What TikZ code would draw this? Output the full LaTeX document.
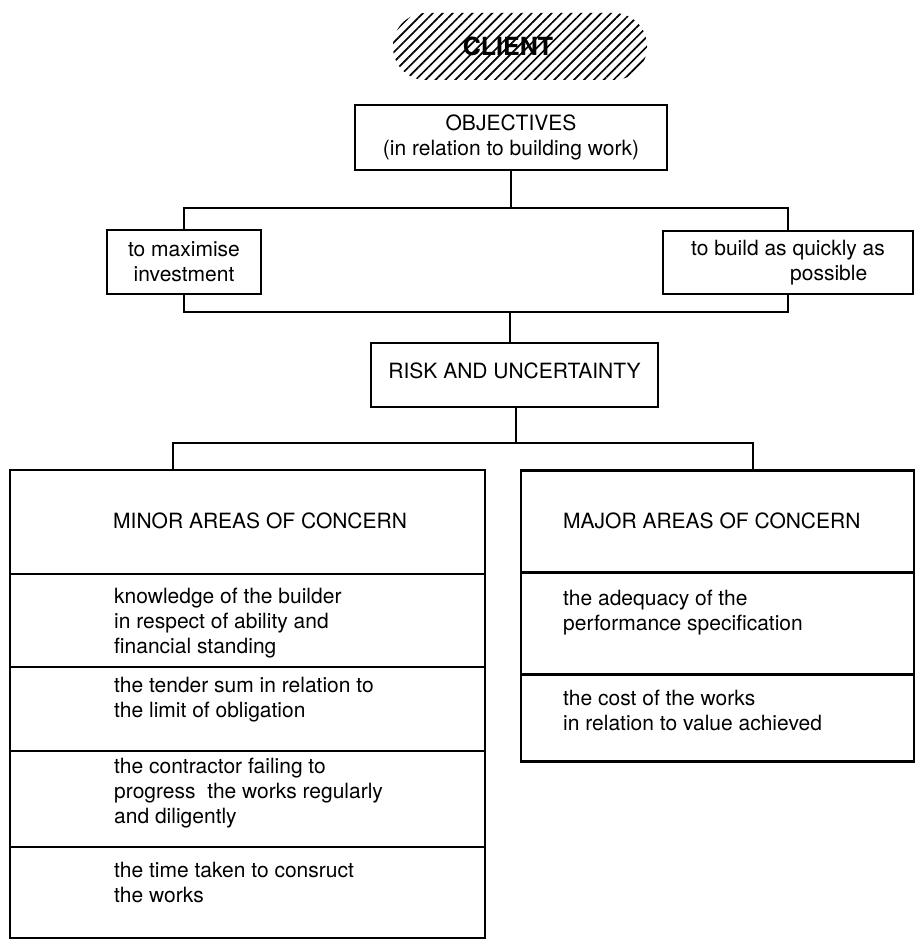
\documentclass[tikz,border=0pt]{standalone}
\usepackage{fontspec}
\setmainfont{TeX Gyre Heros}
\usetikzlibrary{patterns.meta, calc}
\tikzset{
  blk/.style={rectangle, draw, line width=2.5pt, inner sep=0pt, outer sep=0pt,
              align=center, font=\fontsize{21}{25}\selectfont},
  cell/.style={anchor=north west, inner sep=0pt, align=left,
               font=\fontsize{21}{25}\selectfont},
  head/.style={anchor=base west, inner sep=0pt, font=\fontsize{21}{25}\selectfont},
  link/.style={line width=2.5pt},
  rule/.style={line width=2.5pt}
}
\begin{document}
\begin{tikzpicture}[x=1pt, y=-1pt]
  \useasboundingbox (0,0) rectangle (916,941);
  \node[rectangle, rounded corners=33pt, minimum width=254pt, minimum height=67pt,
        pattern={Lines[angle=45, distance=7pt, line width=1.7pt]},
        font=\fontsize{25}{29}\selectfont\bfseries] (client) at (520,46.5)
    {\hspace*{-24pt}CLIENT};
  \node[blk, minimum width=312pt, minimum height=65pt] (obj) at (511,137.5)
    {OBJECTIVES\\(in relation to building work)};
  \node[blk, minimum width=154pt, minimum height=64pt] (maxi) at (184,262)
    {to maximise\\investment};
  \node[blk, minimum width=250pt, minimum height=63pt, align=left] (build) at (788,262.5)
    {to build as quickly as\\\hspace*{99pt}possible};
  \node[blk, minimum width=287pt, minimum height=64pt, text depth=8pt] (risk) at (514.5,375)
    {RISK AND UNCERTAINTY};
  \node[blk, minimum width=475pt, minimum height=468pt] (minor) at (247.5,704) {};
  \node[blk, minimum width=393pt, minimum height=291pt] (major) at (717.5,616) {};

  \node[head] (minorhd) at (113,528) {MINOR AREAS OF CONCERN};
  \node[head] (majorhd) at (563,528) {MAJOR AREAS OF CONCERN};
  \node[cell] (know) at (114,588)
    {knowledge of the builder\\in respect of ability and\\financial standing};
  \node[cell] (tender) at (114,677) {the tender sum in relation to\\the limit of obligation};
  \node[cell] (contr) at (114,758)
    {the contractor failing to\\progress\ \ the works regularly\\and diligently};
  \node[cell] (time) at (114,862) {the time taken to consruct\\the works};
  \node[cell] (adeq) at (563,590) {the adequacy of the\\performance specification};
  \node[cell] (cost) at (563,690) {the cost of the works\\in relation to value achieved};

  \coordinate (j1) at ($(obj.south)+(0,38)$);
  \draw[link] (obj.south) -- (j1);
  \draw[link] (maxi.north) |- (j1) -| (build.north);
  \coordinate (j2) at ($(risk.north)+(-4.5,-31)$);
  \draw[link] (maxi.south) |- (j2) -| (build.south);
  \draw[link] (j2) -- (j2 |- risk.north);
  \coordinate (j3) at ($(risk.south)+(1.5,36)$);
  \coordinate (mintop) at ($(minor.north west)!0.343!(minor.north east)$);
  \coordinate (majtop) at ($(major.north west)!0.590!(major.north east)$);
  \draw[link] (j3 |- risk.south) -- (j3);
  \draw[link] (mintop) |- (j3) -| (majtop);

  \foreach \d in {104,197,281,377}
    \draw[rule] ($(minor.north west)+(0,\d)$) -- ($(minor.north east)+(0,\d)$);
  \foreach \d in {102,204}
    \draw[rule] ($(major.north west)+(0,\d)$) -- ($(major.north east)+(0,\d)$);
\end{tikzpicture}
\end{document}
